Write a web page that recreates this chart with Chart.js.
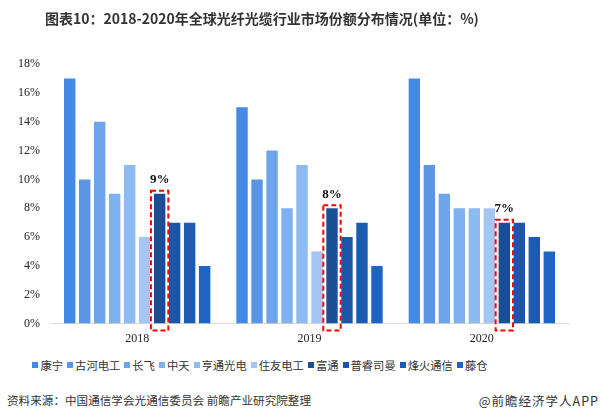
<!DOCTYPE html>
<html>
<head>
<meta charset="utf-8">
<script src="https://cdn.jsdelivr.net/npm/chart.js@4/dist/chart.umd.min.js"></script>
<style>
    body { margin: 0; background: #fff; }
    #wrap { position: relative; width: 600px; height: 420px; overflow: hidden; font-family: "Noto Sans CJK SC", sans-serif; }
    #title { position: absolute; left: 0; top: 8px; width: 524px; text-align: center; font-size: 14px; font-weight: bold; color: #333; }
    #chartBox { position: absolute; left: 0; top: 0; width: 600px; height: 354px; }
    #legend { position: absolute; left: 0; top: 357px; width: 520px; text-align: center; font-size: 11.3px; color: #333; white-space: nowrap; }
    #legend span.item { margin: 0 2px; }
    #legend span.box { display: inline-block; width: 6px; height: 6px; margin-right: 2px; vertical-align: 2px; }
    #source { position: absolute; left: 7px; top: 392px; font-size: 11.6px; color: #333; }
    #brand { position: absolute; right: 1px; top: 391px; font-size: 12.5px; letter-spacing: 1px; color: #333; }
</style>
</head>
<body>
<div id="wrap">
    <div id="chartBox"><canvas id="barchart"></canvas></div>
    <div id="title">图表10：2018-2020年全球光纤光缆行业市场份额分布情况(单位：%)</div>
    <div id="legend"></div>
    <div id="source">资料来源：中国通信学会光通信委员会 前瞻产业研究院整理</div>
    <div id="brand">@前瞻经济学人APP</div>
</div>
<script>
// donnees (en %)
const years = ['2018', '2019', '2020'];
const companies = ['康宁', '古河电工', '长飞', '中天', '亨通光电', '住友电工', '富通', '普睿司曼', '烽火通信', '藤仓'];
const share2018 = [17, 10, 14, 9, 11, 6, 9, 7, 7, 4];
const share2019 = [15, 10, 12, 8, 11, 5, 8, 6, 7, 4];
const share2020 = [17, 11, 9, 8, 8, 8, 7, 7, 6, 5];
const colors = ['#4589e6', '#5a96e3', '#6ea4ec', '#7fb0ef', '#8ebaf2', '#a4c6f5', '#1a4f98', '#1c56a8', '#1b5bb2', '#1e64c4'];
const yTicks = [0, 2, 4, 6, 8, 10, 12, 14, 16, 18];
const highlightIndex = 6; // 富通

function buildDatasets() {
    let datasets = [];
    for (let i = 0; i < companies.length; i++) {
        datasets.push({
            label: companies[i],
            data: [share2018[i], share2019[i], share2020[i]],
            backgroundColor: colors[i],
            categoryPercentage: 0.87,
            barPercentage: 0.76
        });
    }
    return datasets;
}

// cadre rouge en pointilles + etiquette au dessus de la barre 富通
const highlightPlugin = {
    id: 'highlight',
    afterDatasetsDraw(chart) {
        const ctx = chart.ctx;
        const meta = chart.getDatasetMeta(highlightIndex);
        const base = chart.scales.y.getPixelForValue(0);
        meta.data.forEach((bar, i) => {
            const half = bar.width / 2;
            const left = bar.x - half - 3;
            const right = bar.x + half + 3;
            const top = bar.y - 3;
            ctx.save();
            ctx.strokeStyle = '#ff0000';
            ctx.lineWidth = 2;
            ctx.setLineDash([5, 3]);
            ctx.strokeRect(left, top, right - left, base + 7 - top);
            ctx.restore();
            ctx.save();
            ctx.fillStyle = '#111';
            ctx.font = 'bold 13px "Liberation Serif", serif';
            ctx.textAlign = 'center';
            ctx.textBaseline = 'middle';
            const value = chart.data.datasets[highlightIndex].data[i];
            ctx.fillText(value + '%', bar.x, top - 11);
            ctx.restore();
        });
    }
};

function loadBarChart(id) {
    let ctx = document.getElementById(id).getContext('2d');
    return new Chart(ctx, {
        type: 'bar',
        data: {
            labels: years,
            datasets: buildDatasets()
        },
        options: {
            responsive: true,
            maintainAspectRatio: false,
            animation: false,
            layout: { padding: { left: 11, right: 32, top: 64, bottom: 0 } },
            plugins: {
                legend: { display: false },
                title: { display: false },
                tooltip: { enabled: false }
            },
            scales: {
                x: {
                    grid: { display: false, drawTicks: false },
                    border: { display: true, color: '#d9d9d9', width: 1 },
                    ticks: {
                        color: '#222',
                        padding: 8,
                        font: { family: '"Liberation Serif", serif', size: 12 }
                    }
                },
                y: {
                    min: 0,
                    max: 18,
                    afterFit: (scale) => { scale.width = 40; },
                    afterBuildTicks: (scale) => { scale.ticks = yTicks.map(v => ({ value: v })); },
                    grid: { display: false, drawTicks: false },
                    border: { display: false },
                    ticks: {
                        color: '#222',
                        padding: 11,
                        callback: (v) => v + '%',
                        font: { family: '"Liberation Serif", serif', size: 12 }
                    }
                }
            }
        },
        plugins: [highlightPlugin]
    });
}

function createLegend(id) {
    let legend = document.getElementById(id);
    for (let i = 0; i < companies.length; i++) {
        let item = document.createElement('span');
        item.className = 'item';
        let box = document.createElement('span');
        box.className = 'box';
        box.style.background = colors[i];
        item.appendChild(box);
        item.appendChild(document.createTextNode(companies[i]));
        legend.appendChild(item);
    }
}

loadBarChart('barchart');
createLegend('legend');
</script>
</body>
</html>
